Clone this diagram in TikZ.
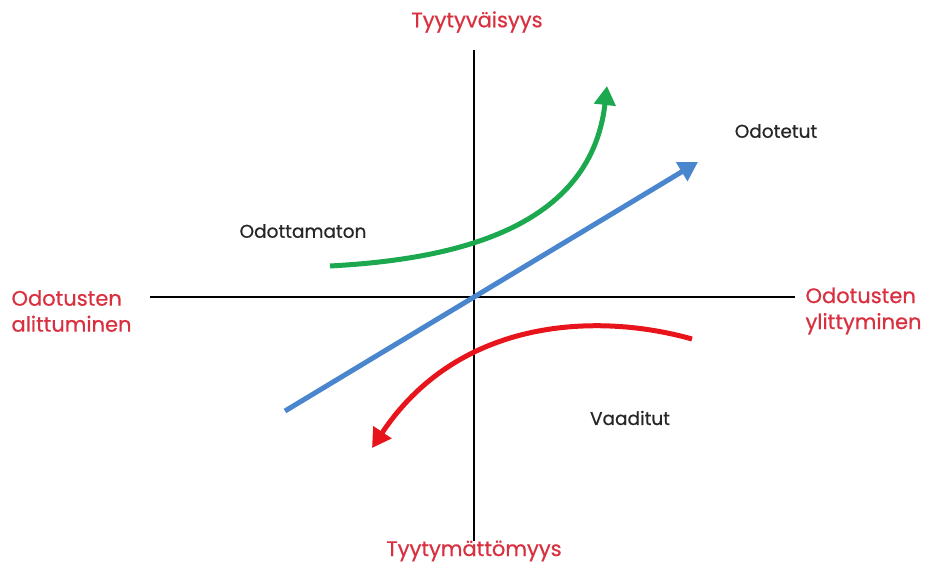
\documentclass[tikz,border=0pt]{standalone}
\usepackage{fontspec}
\setmainfont{Poppins}
\newfontfamily\lblfont{Poppins}[FakeBold=0.6]
\usetikzlibrary{arrows.meta}
\definecolor{lblred}{HTML}{D9303F}
\definecolor{cblue}{HTML}{4A86CE}
\definecolor{cgreen}{HTML}{1CA84E}
\definecolor{cred}{HTML}{E8141C}
\tikzset{
  axis/.style={line width=2pt, black},
  curve/.style={line width=5pt, -{Triangle[length=19pt,width=21pt]}},
  redlbl/.style={text=lblred, font=\lblfont\fontsize{21}{26}\selectfont},
  blklbl/.style={text=black!85, font=\lblfont\fontsize{18.5}{22}\selectfont}
}
\begin{document}
\begin{tikzpicture}[x=1pt,y=-1pt]
\useasboundingbox (0,0) rectangle (930,562);
\coordinate (vt) at (474,50);
\coordinate (vb) at (474,541);
\coordinate (hl) at (150,297);
\coordinate (hr) at (795,297);
\draw[axis] (vt) -- (vb);
\draw[axis] (hl) -- (hr);
\coordinate (bs) at (285,411);
\coordinate (be) at (698,162);
\draw[curve, cblue] (bs) -- (be);
\coordinate (gs) at (330,266);
\coordinate (ge) at (607,86);
\draw[curve, cgreen] (gs) .. controls (440,260) and (590,235) .. (ge);
\coordinate (rs) at (692,339);
\coordinate (re) at (372,448);
\draw[curve, cred] (rs) .. controls (600,313) and (460,316) .. (re);
\node[redlbl] (top) at (477,22) {Tyytyväisyys};
\node[redlbl] (bot) at (474,551) {Tyytymättömyys};
\node[redlbl, align=left, anchor=west] (left) at (8,311) {Odotusten\\alittuminen};
\node[redlbl, align=left, anchor=west] (right) at (802,311) {Odotusten\\ylittyminen};
\node[blklbl] (odotetut) at (776,131) {Odotetut};
\node[blklbl] (odottamaton) at (303,231) {Odottamaton};
\node[blklbl] (vaaditut) at (630,418) {Vaaditut};
\end{tikzpicture}
\end{document}
